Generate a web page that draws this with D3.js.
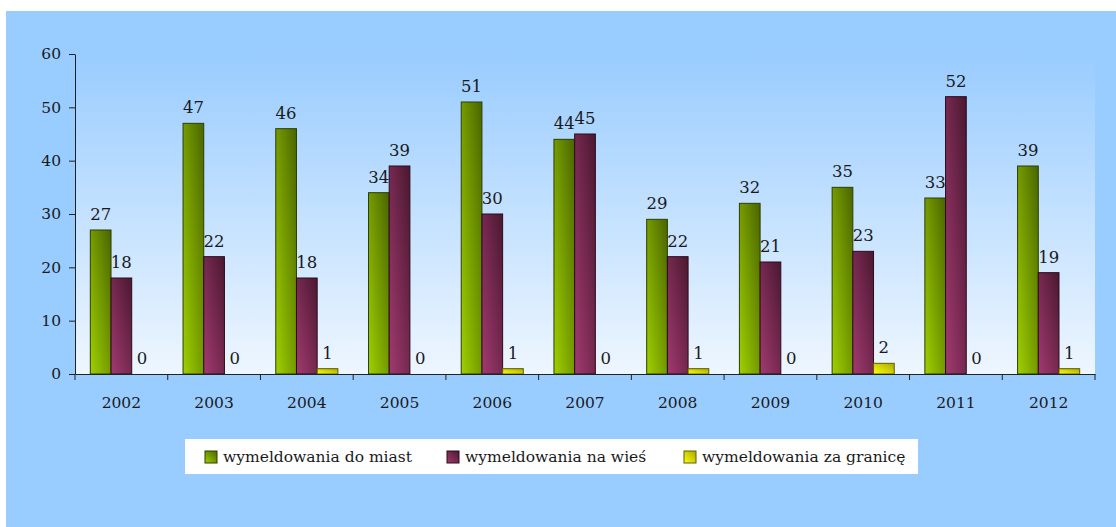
<!DOCTYPE html>
<html>
<head>
<meta charset="utf-8">
<script src="https://cdn.jsdelivr.net/npm/d3@7"></script>
<style>
  html, body { margin: 0; padding: 0; background: #fff; }
  svg text { font-family: "DejaVu Serif", serif; fill: #1a1a1a; }
</style>
</head>
<body>
<div id="chart"></div>
<script>
// dane
const years = ['2002', '2003', '2004', '2005', '2006', '2007', '2008', '2009', '2010', '2011', '2012'];
const seriesNames = ['wymeldowania do miast', 'wymeldowania na wieś', 'wymeldowania za granicę'];
const doMiast = [27, 47, 46, 34, 51, 44, 29, 32, 35, 33, 39];
const naWies = [18, 22, 18, 39, 30, 45, 22, 21, 23, 52, 19];
const zaGranice = [0, 0, 1, 0, 1, 0, 1, 0, 2, 0, 1];
const yTicks = [0, 10, 20, 30, 40, 50, 60];

const seriesValues = [doMiast, naWies, zaGranice];
const colors = [
  { light: '#9fd000', dark: '#4a6500', stroke: '#2e3d00' },
  { light: '#a23a70', dark: '#4a1830', stroke: '#2a0c1a' },
  { light: '#ffff10', dark: '#a8a800', stroke: '#5e5e00' }
];

const W = 1116, H = 527;
const margin = { top: 54, right: 21, bottom: 153, left: 75 };
const width = W - margin.left - margin.right,
      height = H - margin.top - margin.bottom;

const svg = d3.select('#chart').append('svg')
  .attr('width', W)
  .attr('height', H);

const defs = svg.append('defs');

// gradienty słupków
colors.forEach(function(c, i) {
  const g = defs.append('linearGradient')
    .attr('id', 'bar' + i)
    .attr('x1', 0).attr('y1', 1).attr('x2', 1).attr('y2', 0);
  g.append('stop').attr('offset', '0%').attr('stop-color', c.light);
  g.append('stop').attr('offset', '100%').attr('stop-color', c.dark);
});

const bgGrad = defs.append('linearGradient')
  .attr('id', 'plotBg')
  .attr('x1', 0).attr('y1', 0).attr('x2', 0).attr('y2', 1);
bgGrad.append('stop').attr('offset', '0%').attr('stop-color', '#99ccff');
bgGrad.append('stop').attr('offset', '100%').attr('stop-color', '#eef6ff');

// tło
svg.append('rect')
  .attr('x', 6).attr('y', 11)
  .attr('width', W - 6).attr('height', H - 11)
  .attr('fill', '#99ccff');

const chart = svg.append('g')
  .attr('transform', 'translate(' + margin.left + ',' + margin.top + ')');

chart.append('rect')
  .attr('width', width).attr('height', height)
  .attr('fill', 'url(#plotBg)');

// skale
const x0 = d3.scaleBand().domain(years).range([0, width]);
const x1 = d3.scaleBand().domain(d3.range(seriesNames.length))
  .range([0, x0.bandwidth()])
  .paddingInner(0)
  .paddingOuter(0.74);
const y = d3.scaleLinear().domain([0, 60]).range([height, 0]);

// oś Y
chart.append('g')
  .call(d3.axisLeft(y).tickValues(yTicks).tickSize(6).tickPadding(8).tickSizeOuter(0))
  .call(function(g) {
    g.selectAll('line, path').attr('stroke', '#222');
    g.selectAll('text').style('font-size', '15.5px').attr('fill', '#1a1a1a');
  });

// słupki
years.forEach(function(yr, j) {
  const grp = chart.append('g').attr('transform', 'translate(' + x0(yr) + ',0)');
  seriesValues.forEach(function(vals, i) {
    const v = vals[j];
    if (v > 0) {
      grp.append('rect')
        .attr('x', x1(i))
        .attr('y', y(v))
        .attr('width', x1.bandwidth())
        .attr('height', y(0) - y(v))
        .attr('fill', 'url(#bar' + i + ')')
        .attr('stroke', colors[i].stroke)
        .attr('stroke-width', 1);
    }
    grp.append('text')
      .attr('x', x1(i) + x1.bandwidth() / 2)
      .attr('y', y(v) - 10)
      .attr('text-anchor', 'middle')
      .style('font-size', '16.5px')
      .text(v);
  });
});

// oś X
const xAxis = chart.append('g')
  .attr('transform', 'translate(0,' + height + ')')
  .call(d3.axisBottom(x0).tickSize(0).tickPadding(23))
  .call(function(g) {
    g.select('.domain').attr('stroke', '#222');
    g.selectAll('text').style('font-size', '15.5px').attr('fill', '#1a1a1a');
  });

xAxis.selectAll('.bound')
  .data(years.concat(['end']))
  .enter()
  .append('line')
  .attr('class', 'bound')
  .attr('x1', function(d, i) { return i * x0.step(); })
  .attr('x2', function(d, i) { return i * x0.step(); })
  .attr('y1', 0).attr('y2', 6)
  .attr('stroke', '#222');

// legenda
const legend = svg.append('g');
legend.append('rect')
  .attr('x', 185).attr('y', 439)
  .attr('width', 733).attr('height', 35)
  .attr('fill', '#fff');

const legendX = [205, 447, 684];
seriesNames.forEach(function(name, i) {
  const item = legend.append('g').attr('transform', 'translate(' + legendX[i] + ',451)');
  item.append('rect')
    .attr('width', 12).attr('height', 12)
    .attr('fill', 'url(#bar' + i + ')')
    .attr('stroke', colors[i].stroke);
  item.append('text')
    .attr('x', 18).attr('y', 11)
    .style('font-size', '15.5px')
    .text(name);
});
</script>
</body>
</html>
